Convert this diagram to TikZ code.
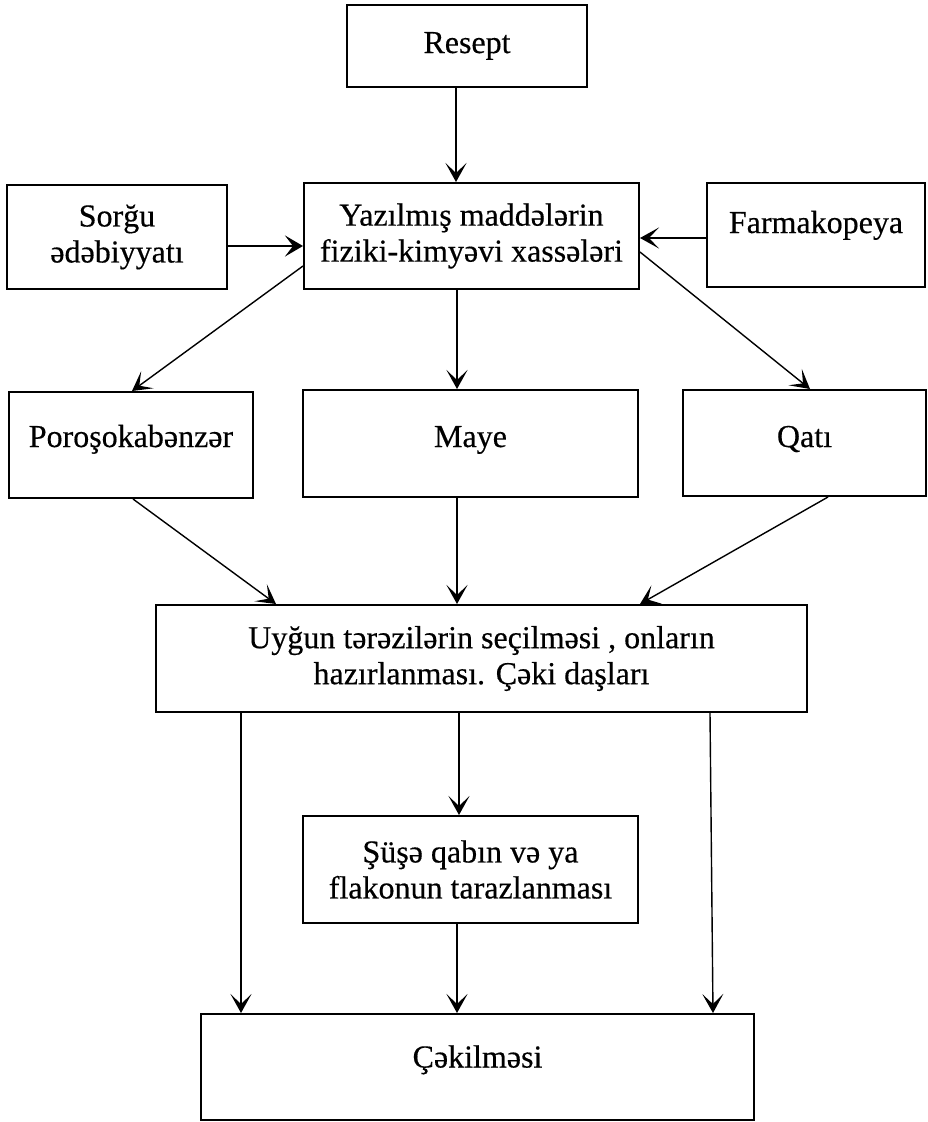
\documentclass[tikz,border=0pt]{standalone}
\usepackage{fontspec}
\setmainfont{Liberation Serif}[FakeBold=0.4]
\usetikzlibrary{arrows.meta}
\begin{document}
\begin{tikzpicture}[x=1pt,y=-1pt,
  box/.style={draw, line width=2pt, inner sep=0pt, align=center,
    font=\fontsize{32}{36}\selectfont},
  conn/.style={line width=1.4pt, -{Stealth[length=19pt,width=21pt,inset=10pt]}},
  thickconn/.style={line width=2.8pt, -{Stealth[length=18pt,width=21pt,inset=8pt]}}]
\useasboundingbox (0,0) rectangle (928,1122);
\fill[white] (0,0) rectangle (928,1122);

\node[box, minimum width=240pt, minimum height=82pt, text height=22pt, text depth=8pt] (resept) at (467,46) {Resept};
\node[box, minimum width=335pt, minimum height=106pt] (yaz) at (471.5,236) {Yazılmış maddələrin\\fiziki-kimyəvi xassələri};
\node[box, minimum width=220pt, minimum height=104pt] (sorgu) at (117,237) {Sorğu\\ədəbiyyatı};
\node[box, minimum width=218pt, minimum height=104pt, text height=22pt, text depth=26pt] (farm) at (816,235) {Farmakopeya};
\node[box, minimum width=244pt, minimum height=106pt, text height=22pt, text depth=18pt] (poros) at (131,445) {Poroşokabənzər};
\node[box, minimum width=335pt, minimum height=107pt, text height=22pt, text depth=15pt] (maye) at (470.5,443.5) {Maye};
\node[box, minimum width=243pt, minimum height=106pt, text height=22pt, text depth=14pt] (qati) at (804.5,443) {Qatı};
\node[box, minimum width=651pt, minimum height=107pt] (uygun) at (481.5,658.5) {Uyğun tərəzilərin seçilməsi , onların\\hazırlanması. Çəki daşları};
\node[box, minimum width=335pt, minimum height=107pt] (susa) at (470.5,869.5) {Şüşə qabın və ya\\flakonun tarazlanması};
\node[box, minimum width=553pt, minimum height=106pt, text height=22pt, text depth=21pt] (cek) at (477.5,1067) {Çəkilməsi};

\draw[conn] ([xshift=-11pt]resept.south) -- ([xshift=-15.5pt]yaz.north);
\draw[thickconn] ([yshift=-9pt]sorgu.east) -- ([yshift=-10pt]yaz.west);
\draw[conn] ([yshift=-3pt]farm.west) -- ([yshift=-2pt]yaz.east);
\draw[conn] ([yshift=-30pt]yaz.west) -- ([xshift=1pt]poros.north);
\draw[conn] ([xshift=-14.5pt]yaz.south) -- ([xshift=-13.5pt]maye.north);
\draw[conn] ([yshift=-16pt]yaz.east) -- ([xshift=5.5pt]qati.north);
\draw[conn] ([xshift=2pt]poros.south) -- ([xshift=-205.5pt]uygun.north);
\draw[conn] ([xshift=-13.5pt]maye.south) -- ([xshift=-24.5pt]uygun.north);
\draw[conn] ([xshift=23.5pt]qati.south) -- ([xshift=158.5pt]uygun.north);
\draw[conn] ([xshift=-240.5pt]uygun.south) -- ([xshift=-236.5pt]cek.north);
\draw[conn] ([xshift=-22.5pt]uygun.south) -- ([xshift=-11.5pt]susa.north);
\draw[conn] ([xshift=228.5pt]uygun.south) -- ([xshift=235.5pt]cek.north);
\draw[conn] ([xshift=-13.5pt]susa.south) -- ([xshift=-20.5pt]cek.north);
\end{tikzpicture}
\end{document}
